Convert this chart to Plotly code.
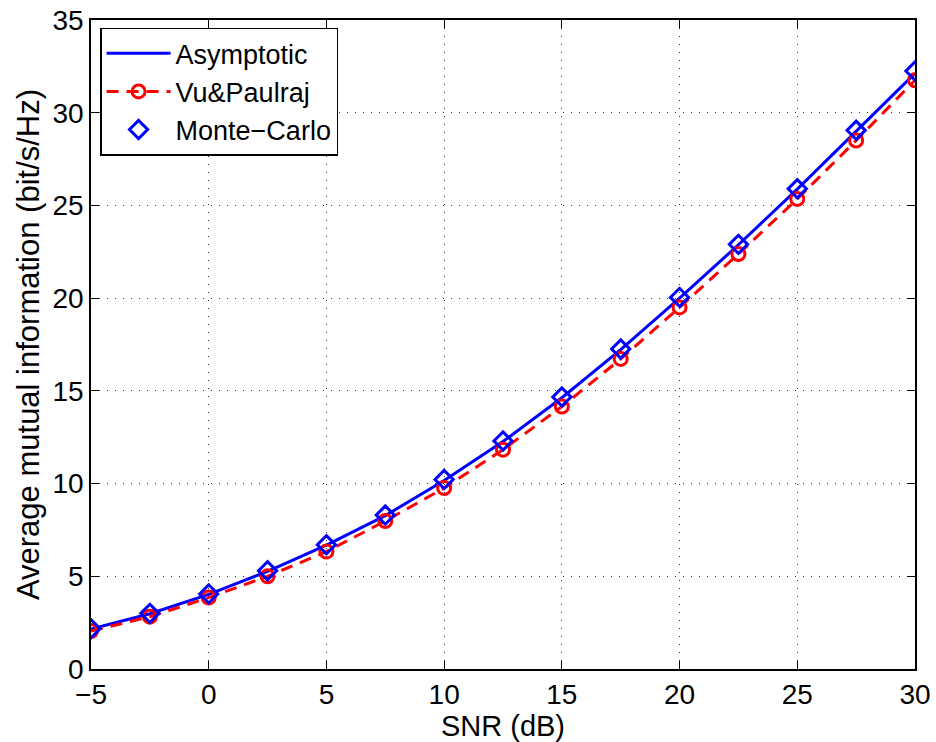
import plotly.graph_objects as go

snr = [-5, -2.5, 0, 2.5, 5, 7.5, 10, 12.5, 15, 17.5, 20, 22.5, 25, 27.5, 30]
asymptotic = [2.15, 2.98, 4.02, 5.27, 6.68, 8.27, 10.17, 12.27, 14.63, 17.22, 20.0, 22.88, 25.88, 28.98, 32.12]
vu_paulraj = [2.05, 2.82, 3.85, 5.0, 6.33, 7.98, 9.76, 11.83, 14.15, 16.72, 19.5, 22.38, 25.35, 28.5, 31.75]
monte_carlo = [2.17, 3.0, 4.05, 5.3, 6.7, 8.3, 10.22, 12.3, 14.67, 17.26, 20.04, 22.9, 25.9, 29.05, 32.25]

x_ticks = [-5, 0, 5, 10, 15, 20, 25, 30]
y_ticks = [0, 5, 10, 15, 20, 25, 30, 35]

FONT = "Liberation Sans, Arial, Helvetica"

fig = go.Figure()
fig.add_trace(go.Scatter(x=snr, y=asymptotic, mode="lines", name="Asymptotic",
                         line=dict(color="#0000FF", width=3)))
fig.add_trace(go.Scatter(x=snr, y=vu_paulraj, mode="lines+markers", name="Vu&amp;Paulraj",
                         line=dict(color="#FF0000", width=3, dash="12px,8px"),
                         marker=dict(symbol="circle-open", size=13, color="#FF0000",
                                     line=dict(width=3, color="#FF0000"))))
fig.add_trace(go.Scatter(x=snr, y=monte_carlo, mode="markers", name="Monte\u2212Carlo",
                         marker=dict(symbol="diamond-open", size=14, color="#0000FF",
                                     line=dict(width=3, color="#0000FF"))))

axis_common = dict(
    showline=True, linecolor="black", linewidth=1.5, mirror="ticks",
    ticks="inside", ticklen=8, tickwidth=1, tickcolor="black",
    showgrid=True, gridcolor="#333333", griddash="1px,7px", gridwidth=1,
    zeroline=False, automargin=False,
    tickfont=dict(family=FONT, size=28, color="black"),
)

fig.update_layout(
    width=936, height=742,
    margin=dict(l=91, r=21, t=20, b=73),
    paper_bgcolor="white", plot_bgcolor="white",
    font=dict(family=FONT, color="black"),
    showlegend=True,
    legend=dict(x=0.011, y=0.988, xanchor="left", yanchor="top",
                bgcolor="white", bordercolor="black", borderwidth=1.5,
                font=dict(size=27, family=FONT, color="black"),
                itemwidth=64, tracegroupgap=0),
    xaxis=dict(range=[-5, 30], tickvals=x_ticks,
               title=dict(text="SNR (dB)", font=dict(size=29), standoff=0),
               **axis_common),
    yaxis=dict(range=[0, 35], tickvals=y_ticks,
               title=dict(text="Average mutual information (bit/s/Hz)", font=dict(size=31), standoff=4),
               **axis_common),
)

fig.write_html("out.html")
